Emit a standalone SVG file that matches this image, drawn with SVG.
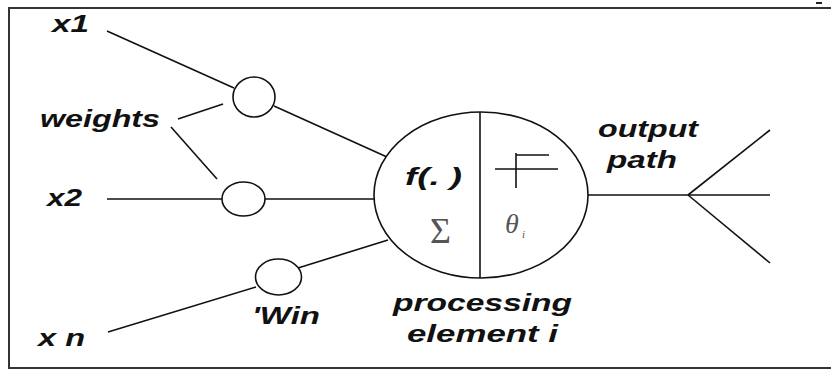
<svg xmlns="http://www.w3.org/2000/svg" width="831" height="371" viewBox="0 0 831 371">
<style>
.ln{stroke:#111;stroke-width:1.6;fill:none}
.nd{stroke:#111;stroke-width:1.6;fill:#fff}
.fr{stroke:#333;stroke-width:2;fill:none}
.lb{font-family:"Liberation Sans",Arial,sans-serif;font-weight:bold;font-style:italic;font-size:23px;fill:#111}
.gs{font-family:"Liberation Serif","Times New Roman",serif;fill:#555}
</style>
<rect width="831" height="371" fill="#fff"/>
<path class="fr" d="M831,8 H9 V368 H831"/>
<line x1="816" y1="3" x2="822" y2="3" stroke="#222" stroke-width="2"/>
<g id="connectors">
<line class="ln" x1="107" y1="31" x2="234" y2="88"/>
<line class="ln" x1="178" y1="119" x2="223" y2="104"/>
<line class="ln" x1="171" y1="127" x2="217" y2="179"/>
<line class="ln" x1="274" y1="106" x2="387" y2="157"/>
<line class="ln" x1="107" y1="199" x2="222" y2="199"/>
<line class="ln" x1="265" y1="199" x2="375" y2="199"/>
<line class="ln" x1="108" y1="332" x2="256" y2="287"/>
<line class="ln" x1="298" y1="268" x2="388" y2="240"/>
<line class="ln" x1="588" y1="195" x2="688" y2="195"/>
<line class="ln" x1="688" y1="195" x2="770" y2="130"/>
<line class="ln" x1="688" y1="195" x2="770" y2="195"/>
<line class="ln" x1="688" y1="195" x2="770" y2="263"/>
</g>
<g id="w1"><ellipse class="nd" cx="254" cy="97" rx="21" ry="20"/></g>
<g id="w2"><ellipse class="nd" cx="243.5" cy="199" rx="21.5" ry="17"/></g>
<g id="wn"><ellipse class="nd" cx="278.5" cy="277" rx="23" ry="18"/></g>
<g id="pe">
<ellipse class="nd" cx="481" cy="195" rx="107" ry="83"/>
<line class="ln" x1="480" y1="112" x2="480" y2="278"/>
<text class="lb" x="405" y="185" textLength="57" lengthAdjust="spacingAndGlyphs">f(. )</text>
<text class="gs" x="430" y="243" font-size="36">Σ</text>
<line class="ln" x1="495" y1="169" x2="558" y2="169"/>
<line class="ln" x1="516" y1="153" x2="516" y2="188"/>
<line class="ln" x1="516" y1="155" x2="549" y2="155"/>
<text class="gs" x="505" y="233" font-size="28" font-style="italic">θ</text>
<text class="gs" x="522" y="238" font-size="11" font-style="italic">i</text>
</g>
<g id="labels">
<text class="lb" x="52" y="32" textLength="37" lengthAdjust="spacingAndGlyphs">x1</text>
<text class="lb" x="40" y="127" textLength="120" lengthAdjust="spacingAndGlyphs">weights</text>
<text class="lb" x="47" y="206" textLength="35" lengthAdjust="spacingAndGlyphs">x2</text>
<text class="lb" x="38" y="346" textLength="47" lengthAdjust="spacingAndGlyphs">x n</text>
<text class="lb" x="252" y="324" textLength="68" lengthAdjust="spacingAndGlyphs">'Win</text>
<text class="lb" x="598" y="137" textLength="100" lengthAdjust="spacingAndGlyphs">output</text>
<text class="lb" x="607" y="168" textLength="70" lengthAdjust="spacingAndGlyphs">path</text>
<text class="lb" x="393" y="311" textLength="179" lengthAdjust="spacingAndGlyphs">processing</text>
<text class="lb" x="407" y="342" textLength="151" lengthAdjust="spacingAndGlyphs">element i</text>
</g>
</svg>
